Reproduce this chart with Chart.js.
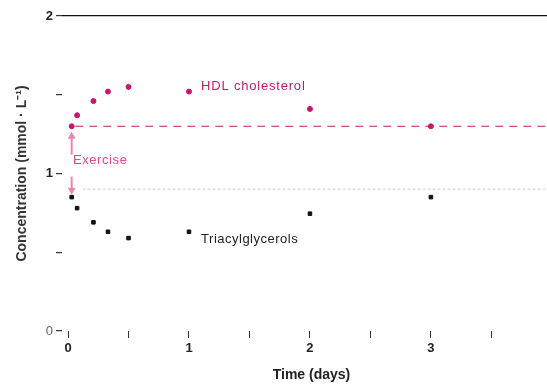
<!DOCTYPE html>
<html>
<head>
<meta charset="utf-8">
<script src="https://cdn.jsdelivr.net/npm/chart.js@4/dist/chart.umd.min.js"></script>
<style>
  html, body { margin: 0; padding: 0; background: #fff; overflow: hidden; }
  #wrap { width: 552px; height: 388px; }
</style>
</head>
<body>
<div id="wrap"><canvas id="chart_area"></canvas></div>
<script>
// time after exercise (days)
const days = [0.03, 0.075, 0.21, 0.33, 0.5, 1, 2, 3];
const hdl_values = [1.30, 1.37, 1.46, 1.52, 1.55, 1.52, 1.41, 1.30];
const tg_values = [0.85, 0.78, 0.69, 0.63, 0.59, 0.63, 0.745, 0.85];
const hdl_baseline = 1.30;
const tg_baseline = 0.90;
const x_ticks = [0, 0.5, 1, 1.5, 2, 2.5, 3, 3.5];
const y_ticks = [0, 0.5, 1, 1.5, 2];

const PINK = "#c8176b";
const FONT = "'Liberation Sans', Arial, sans-serif";

// labels + exercise arrows
const notes = {
  id: "notes",
  afterDatasetsDraw(chart) {
    const c = chart.ctx;
    const xs = chart.scales.x;
    const ys = chart.scales.y;
    c.save();
    c.font = "13px " + FONT;
    c.letterSpacing = "0.8px";
    c.textBaseline = "middle";
    c.fillStyle = PINK;
    c.fillText("HDL cholesterol", xs.getPixelForValue(1.1), ys.getPixelForValue(1.555));
    c.fillStyle = "#222";
    c.letterSpacing = "0.5px";
    c.fillText("Triacylglycerols", xs.getPixelForValue(1.1), ys.getPixelForValue(0.58));
    c.fillStyle = "#dc4a8e";
    c.letterSpacing = "0.6px";
    c.fillText("Exercise", xs.getPixelForValue(0.04), ys.getPixelForValue(1.08));

    // arrows
    const ax = xs.getPixelForValue(0.03);
    c.strokeStyle = "#ea86b2";
    c.fillStyle = "#ea86b2";
    c.lineWidth = 2;
    function arrow(from, to) {
      const y0 = ys.getPixelForValue(from);
      const y1 = ys.getPixelForValue(to);
      const dir = y1 < y0 ? 1 : -1;
      c.beginPath();
      c.moveTo(ax, y0);
      c.lineTo(ax, y1 + dir * 4);
      c.stroke();
      c.beginPath();
      c.moveTo(ax, y1);
      c.lineTo(ax - 4, y1 + dir * 7);
      c.lineTo(ax + 4, y1 + dir * 7);
      c.closePath();
      c.fill();
    }
    arrow(1.12, 1.265);
    arrow(0.98, 0.865);
    c.restore();
  }
};

const chart_area = document.getElementById("chart_area").getContext("2d");
const chart = new Chart(chart_area, {
  type: "scatter",
  data: {
    datasets: [
      {
        label: "tg_baseline",
        data: [{ x: 0.12, y: tg_baseline }, { x: 4, y: tg_baseline }],
        showLine: true,
        borderColor: "#e4e4e4",
        borderWidth: 2,
        borderDash: [3, 2],
        pointRadius: 0,
      },
      {
        label: "hdl_baseline",
        data: [{ x: 0.06, y: hdl_baseline }, { x: 4, y: hdl_baseline }],
        showLine: true,
        borderColor: PINK,
        borderWidth: 1.2,
        borderDash: [8, 6],
        pointRadius: 0,
      },
      {
        label: "HDL cholesterol",
        data: days.map((d, i) => ({ x: d, y: hdl_values[i] })),
        backgroundColor: PINK,
        borderColor: PINK,
        pointRadius: 2.5,
        pointStyle: "circle",
      },
      {
        label: "Triacylglycerols",
        data: days.map((d, i) => ({ x: d, y: tg_values[i] })),
        backgroundColor: "#111",
        borderColor: "#111",
        pointRadius: 2.5,
        pointStyle: "rect",
      },
    ],
  },
  options: {
    responsive: true,
    maintainAspectRatio: false,
    animation: false,
    layout: { padding: { top: 16, right: 0, left: 0, bottom: 0 } },
    plugins: {
      legend: { display: false },
      tooltip: { enabled: false },
    },
    scales: {
      x: {
        type: "linear",
        min: -0.05,
        max: 3.96,
        afterBuildTicks: (scale) => {
          scale.ticks = x_ticks.map((v) => ({ value: v }));
        },
        afterFit: (scale) => { scale.height = 57; },
        border: { display: false },
        grid: {
          color: "transparent",
          tickColor: "#333",
          tickLength: 7,
          tickWidth: 1,
        },
        ticks: {
          autoSkip: false,
          maxRotation: 0,
          padding: 3,
          color: "#222",
          font: { family: FONT, size: 13, weight: "bold" },
          callback: (v) => (Number.isInteger(v) ? v : ""),
        },
        title: {
          display: true,
          text: "\u2002\u2002Time (days)",
          color: "#222",
          padding: { top: 4, bottom: 4 },
          font: { family: FONT, size: 14, weight: "bold" },
        },
      },
      y: {
        min: 0,
        max: 2,
        afterBuildTicks: (scale) => {
          scale.ticks = y_ticks.map((v) => ({ value: v }));
        },
        afterFit: (scale) => { scale.width = 62; },
        border: { display: false },
        grid: {
          color: (ctx) => (ctx.tick && ctx.tick.value === 2 ? "#111" : "transparent"),
          lineWidth: 1.2,
          tickColor: "#333",
          tickLength: 6,
        },
        ticks: {
          padding: 3,
          color: (ctx) => (ctx.tick && ctx.tick.value === 0 ? "#666" : "#222"),
          font: (ctx) => ({
            family: FONT,
            size: 13,
            weight: ctx.tick && ctx.tick.value === 0 ? "normal" : "bold",
          }),
          callback: (v) => (Number.isInteger(v) ? v : ""),
        },
        title: {
          display: true,
          text: "Concentration (mmol · L\u207B\u00B9)",
          color: "#333",
          padding: { top: 14, bottom: 0 },
          font: { family: FONT, size: 14, weight: "bold" },
        },
      },
    },
  },
  plugins: [notes],
});
</script>
</body>
</html>
